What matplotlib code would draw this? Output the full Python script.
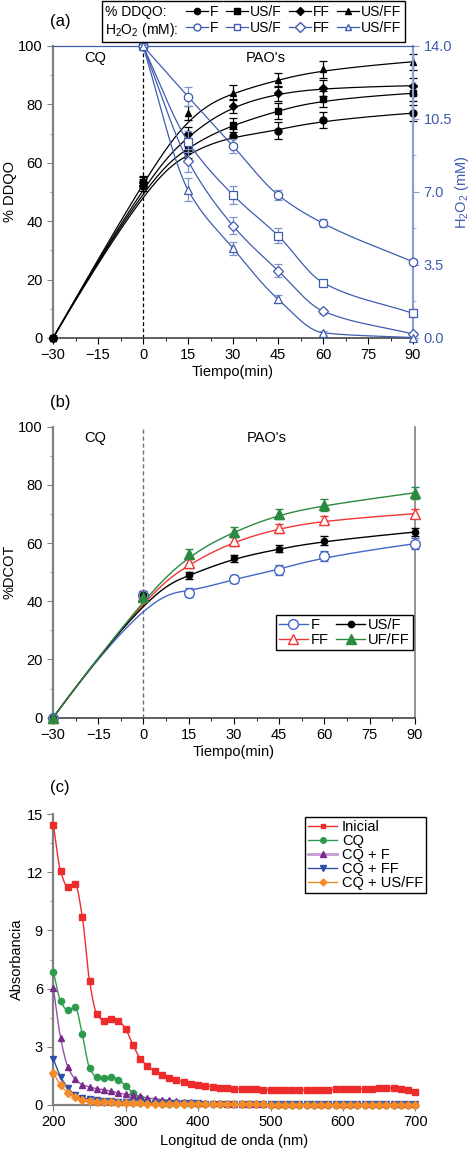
"""plot.py — DDQO / H2O2 kinetics, DCOT removal and UV-vis spectra (3 stacked panels)."""

import numpy as np
import matplotlib.pyplot as plt
from matplotlib.lines import Line2D
from matplotlib.ticker import MultipleLocator

plt.rcParams['font.family'] = ['Liberation Sans', 'DejaVu Sans']
plt.rcParams['mathtext.fontset'] = 'custom'
plt.rcParams['mathtext.rm'] = 'Liberation Sans'
plt.rcParams['mathtext.default'] = 'regular'
plt.rcParams['font.size'] = 10

# ---------------- panel (a): %DDQO (left) and H2O2 (right) ----------------
t_ddqo = [-30, 0, 15, 30, 45, 60, 90]
ddqo_F = [0, 52.0, 64.0, 69.0, 71.0, 74.7, 77.0]
ddqo_USF = [0, 53.0, 66.0, 73.0, 77.8, 81.8, 83.8]
ddqo_FF = [0, 53.5, 70.0, 79.5, 83.8, 85.7, 86.4]
ddqo_USFF = [0, 54.0, 77.0, 84.0, 88.4, 92.0, 94.6]
ddqo_err_F = [0.5, 1.5, 2.5, 2.5, 2.8, 2.8, 2.8]
ddqo_err_USF = [0.5, 1.5, 2.2, 2.5, 2.8, 2.8, 2.8]
ddqo_err_FF = [0.5, 1.5, 2.2, 2.5, 2.6, 2.8, 2.8]
ddqo_err_USFF = [0.5, 1.5, 2.5, 2.5, 2.5, 2.8, 2.8]

t_h2o2 = [0, 15, 30, 45, 60, 90]
h2o2_F = [14.0, 11.57, 9.20, 6.86, 5.50, 3.65]
h2o2_USF = [14.0, 9.41, 6.86, 4.91, 2.65, 1.18]
h2o2_FF = [14.0, 8.50, 5.38, 3.23, 1.29, 0.19]
h2o2_USFF = [14.0, 7.10, 4.30, 1.86, 0.25, 0.02]
h2o2_err_F = [0.0, 0.45, 0.35, 0.25, 0.2, 0.12]
h2o2_err_USF = [0.0, 0.5, 0.45, 0.35, 0.12, 0.1]
h2o2_err_FF = [0.0, 0.55, 0.4, 0.3, 0.12, 0.1]
h2o2_err_USFF = [0.0, 0.55, 0.3, 0.2, 0.1, 0.1]

# ---------------- panel (b): %DCOT ----------------
t_dcot = [-30, 0, 15, 30, 45, 60, 90]
dcot_F = [0, 42.0, 43.0, 47.7, 50.8, 55.5, 59.8]
dcot_USF = [0, 42.3, 49.0, 54.8, 58.0, 60.8, 63.8]
dcot_FF = [0, 41.8, 53.0, 60.6, 65.1, 67.9, 70.1]
dcot_UFFF = [0, 41.6, 56.2, 63.9, 70.0, 73.1, 77.3]
dcot_err_F = [0.3, 1.2, 1.5, 1.5, 1.8, 1.8, 1.8]
dcot_err_USF = [0.3, 1.2, 1.2, 1.2, 1.2, 1.5, 1.5]
dcot_err_FF = [0.3, 1.2, 1.5, 1.5, 1.5, 1.5, 1.5]
dcot_err_UFFF = [0.3, 1.2, 1.8, 1.8, 1.8, 2.0, 2.0]

# ---------------- panel (c): absorbance spectra ----------------
wavelength = list(range(200, 701, 10))
abs_inicial = [14.45, 12.05, 11.25, 11.40, 9.70, 6.40, 4.70, 4.35, 4.45, 4.35,
               3.90, 3.10, 2.38, 2.03, 1.74, 1.55, 1.40, 1.28, 1.19, 1.10,
               1.05, 1.00, 0.93, 0.90, 0.86, 0.84, 0.82, 0.81, 0.80, 0.79,
               0.78, 0.78, 0.77, 0.77, 0.77, 0.77, 0.78, 0.78, 0.79, 0.80,
               0.81, 0.82, 0.83, 0.84, 0.85, 0.87, 0.88, 0.87, 0.84, 0.76, 0.66]
abs_cq = [6.88, 5.36, 4.88, 5.05, 3.64, 1.91, 1.43, 1.40, 1.45, 1.28,
          1.00, 0.62, 0.36, 0.19, 0.10, 0.07, 0.06, 0.05, 0.05, 0.04,
          0.04, 0.04, 0.03, 0.03, 0.03, 0.03, 0.03, 0.03, 0.03, 0.03,
          0.02, 0.02, 0.02, 0.02, 0.02, 0.02, 0.02, 0.02, 0.02, 0.02,
          0.02, 0.02, 0.02, 0.02, 0.02, 0.02, 0.02, 0.02, 0.02, 0.02, 0.02]
abs_cq_f = [6.05, 3.47, 1.97, 1.34, 1.05, 0.93, 0.84, 0.79, 0.71, 0.62,
            0.55, 0.52, 0.45, 0.36, 0.33, 0.28, 0.24, 0.21, 0.17, 0.14,
            0.10, 0.09, 0.08, 0.08, 0.07, 0.07, 0.07, 0.06, 0.06, 0.06,
            0.06, 0.05, 0.05, 0.05, 0.05, 0.05, 0.05, 0.05, 0.05, 0.05,
            0.05, 0.05, 0.05, 0.05, 0.05, 0.05, 0.05, 0.05, 0.05, 0.05, 0.05]
abs_cq_ff = [2.38, 1.45, 0.90, 0.53, 0.38, 0.31, 0.26, 0.22, 0.19, 0.17,
             0.15, 0.14, 0.13, 0.12, 0.11, 0.10, 0.10, 0.09, 0.09, 0.08,
             0.08, 0.07, 0.07, 0.07, 0.06, 0.06, 0.06, 0.06, 0.05, 0.05,
             0.05, 0.05, 0.05, 0.04, 0.04, 0.04, 0.04, 0.04, 0.04, 0.04,
             0.04, 0.03, 0.03, 0.03, 0.03, 0.03, 0.03, 0.03, 0.03, 0.03, 0.03]
abs_cq_usff = [1.67, 1.02, 0.64, 0.40, 0.26, 0.21, 0.17, 0.15, 0.14, 0.12,
               0.10, 0.09, 0.08, 0.07, 0.06, 0.06, 0.05, 0.05, 0.05, 0.04,
               0.04, 0.04, 0.04, 0.03, 0.03, 0.03, 0.03, 0.03, 0.03, 0.03,
               0.02, 0.02, 0.02, 0.02, 0.02, 0.02, 0.02, 0.02, 0.02, 0.02,
               0.02, 0.02, 0.02, 0.02, 0.02, 0.02, 0.02, 0.02, 0.02, 0.02, 0.02]


def pchip(x, y, n=300):
    """Monotone cubic through the points (guide curve)."""
    x = np.asarray(x, float)
    y = np.asarray(y, float)
    h = np.diff(x)
    d = np.diff(y) / h
    m = np.zeros_like(y)
    m[0], m[-1] = d[0], d[-1]
    for k in range(1, len(x) - 1):
        if d[k - 1] * d[k] > 0:
            w1 = 2 * h[k] + h[k - 1]
            w2 = h[k] + 2 * h[k - 1]
            m[k] = (w1 + w2) / (w1 / d[k - 1] + w2 / d[k])
    xs = np.linspace(x[0], x[-1], n)
    i = np.clip(np.searchsorted(x, xs) - 1, 0, len(x) - 2)
    s = (xs - x[i]) / h[i]
    h00 = 2 * s**3 - 3 * s**2 + 1
    h10 = s**3 - 2 * s**2 + s
    h01 = -2 * s**3 + 3 * s**2
    h11 = s**3 - s**2
    ys = h00 * y[i] + h10 * h[i] * m[i] + h01 * y[i + 1] + h11 * h[i] * m[i + 1]
    return xs, ys


def bspline(x, y, n=300, k=3):
    """Clamped cubic B-spline using the points as control points (smoothed guide)."""
    P = np.column_stack([x, y]).astype(float)
    m = len(P)
    knots = np.concatenate([np.zeros(k), np.linspace(0, 1, m - k + 1), np.ones(k)])
    u = np.linspace(0, 1, n)
    u[-1] -= 1e-9

    def basis(i, p):
        if p == 0:
            return ((knots[i] <= u) & (u < knots[i + 1])).astype(float)
        out = np.zeros_like(u)
        if knots[i + p] > knots[i]:
            out += (u - knots[i]) / (knots[i + p] - knots[i]) * basis(i, p - 1)
        if knots[i + p + 1] > knots[i + 1]:
            out += (knots[i + p + 1] - u) / (knots[i + p + 1] - knots[i + 1]) * basis(i + 1, p - 1)
        return out

    C = sum(basis(i, k)[:, None] * P[i] for i in range(m))
    return C[:, 0], C[:, 1]


def style_time_axis(ax):
    ax.set_xlim(-30, 90)
    ax.set_ylim(0, 100)
    ax.xaxis.set_major_locator(MultipleLocator(15))
    ax.xaxis.set_minor_locator(MultipleLocator(7.5))
    ax.yaxis.set_major_locator(MultipleLocator(20))
    ax.yaxis.set_minor_locator(MultipleLocator(10))
    ax.tick_params(which='both', direction='out', top=False, right=False,
                   labelsize=10.5)
    ax.tick_params(which='major', length=4)
    ax.tick_params(which='minor', length=2.5)
    ax.tick_params(axis='y', which='both', color='#808080')
    ax.spines['left'].set_color('#808080')
    ax.spines['left'].set_linewidth(1.6)
    ax.spines['bottom'].set_color('#333333')
    ax.spines['bottom'].set_linewidth(1.1)
    ax.set_xlabel('Tiempo(min)', fontsize=10.5, labelpad=2)
    ax.text(-16, 96, 'CQ', ha='center', va='center', fontsize=10.5)
    ax.text(41, 96, "PAO's", ha='center', va='center', fontsize=10.5)


fig = plt.figure(figsize=(4.72, 11.52), dpi=100)

# ======================= (a) =======================
BLUE = '#3F5CB0'
ax = fig.add_axes([0.1123, 0.7066, 0.7627, 0.2535])
ax2 = ax.twinx()
style_time_axis(ax)
ax.axvline(0, color='black', ls=(0, (3, 2)), lw=0.9)

black_sets = [(ddqo_F, ddqo_err_F, 'o'), (ddqo_USF, ddqo_err_USF, 's'),
              (ddqo_FF, ddqo_err_FF, 'D'), (ddqo_USFF, ddqo_err_USFF, '^')]
for vals, err, mk in black_sets:
    xs, ys = bspline(t_ddqo, vals)
    ax.plot(xs, ys, color='black', lw=0.9, zorder=3)
    ax.errorbar(t_ddqo, vals, yerr=err, fmt=mk, color='black', ms=5 if mk != 'D' else 4.5,
                capsize=3, elinewidth=0.9, capthick=0.9, zorder=4, clip_on=False)

blue_sets = [(h2o2_F, h2o2_err_F, 'o'), (h2o2_USF, h2o2_err_USF, 's'),
             (h2o2_FF, h2o2_err_FF, 'D'), (h2o2_USFF, h2o2_err_USFF, '^')]
for vals, err, mk in blue_sets:
    xs, ys = pchip(t_h2o2, vals)
    ax2.plot(xs, ys, color=BLUE, lw=0.9, zorder=3)
    ax2.errorbar(t_h2o2, vals, yerr=err, fmt=mk, mfc='white', mec=BLUE, ecolor='#7F93CC',
                 ms=6 if mk != 'D' else 5, mew=0.9, capsize=3, elinewidth=0.9,
                 capthick=0.9, zorder=4, clip_on=False, ls='none')

ax.set_ylabel('% DDQO', fontsize=10.5, labelpad=1)
ax2.set_ylim(0, 14)
ax2.yaxis.set_major_locator(MultipleLocator(3.5))
ax2.yaxis.set_minor_locator(MultipleLocator(1.75))
ax2.yaxis.set_major_formatter(plt.FormatStrFormatter('%.1f'))
ax2.tick_params(axis='y', which='both', direction='out', color='#8C9ED0',
                labelcolor=BLUE, labelsize=10.5)
ax2.tick_params(axis='y', which='major', length=4)
ax2.tick_params(axis='y', which='minor', length=2.5)
ax2.set_ylabel('H$_2$O$_2$ (mM)', color=BLUE, fontsize=10.5, labelpad=1)
for side in ('left', 'bottom'):
    ax2.spines[side].set_visible(False)
ax2.spines['right'].set_color('#8C9ED0')
ax2.spines['right'].set_linewidth(1.6)
ax2.spines['top'].set_color(BLUE)
ax2.spines['top'].set_linewidth(0.9)
ax.spines['right'].set_visible(False)
ax.spines['top'].set_visible(False)

row_blank = Line2D([], [], ls='none')
leg_handles, leg_labels = [row_blank, row_blank], ['% DDQO:', 'H$_2$O$_2$ (mM):']
for mk, name in zip(['o', 's', 'D', '^'], ['F', 'US/F', 'FF', 'US/FF']):
    leg_handles.append(Line2D([], [], color='black', marker=mk, ms=4.5, lw=0.9))
    leg_handles.append(Line2D([], [], color=BLUE, marker=mk, ms=5, lw=0.9,
                              mfc='white', mec=BLUE))
    leg_labels += [name, name]
leg = fig.legend(leg_handles, leg_labels, ncol=5, loc='upper center',
                 bbox_to_anchor=(0.537, 0.999), bbox_transform=fig.transFigure,
                 fontsize=10, handlelength=1.6, handletextpad=0.15,
                 columnspacing=0.5, labelspacing=0.15, borderpad=0.25,
                 borderaxespad=0, frameon=True, fancybox=False,
                 edgecolor='black', framealpha=1)
leg.get_frame().set_linewidth(1.0)
try:
    for row in leg._legend_handle_box.get_children()[0].get_children():
        row.get_children()[0].width = 0
        row.sep = 0
except (AttributeError, IndexError):
    pass

fig.text(0.106, 0.981, '(a)', fontsize=12, ha='left', va='center')

# ======================= (b) =======================
bx = fig.add_axes([0.1123, 0.377, 0.7669, 0.2526])
style_time_axis(bx)
bx.axvline(0, color='#707070', ls=(0, (3, 2)), lw=1.0)
bx.spines['top'].set_visible(False)
bx.spines['right'].set_color('#808080')
bx.spines['right'].set_linewidth(1.2)
bx.set_ylabel('%DCOT', fontsize=10.5, labelpad=1)

b_sets = [
    (dcot_F, dcot_err_F, 'F', 'o', '#4566C8', 'white', 7),
    (dcot_FF, dcot_err_FF, 'FF', '^', '#F03535', 'white', 7),
    (dcot_USF, dcot_err_USF, 'US/F', 'o', 'black', 'black', 4.5),
    (dcot_UFFF, dcot_err_UFFF, 'UF/FF', '^', '#2A8A40', '#2A8A40', 7),
]
b_handles = []
for vals, err, name, mk, col, face, size in b_sets:
    xs, ys = bspline(t_dcot, vals)
    bx.plot(xs, ys, color=col, lw=1.0, zorder=3)
    bx.errorbar(t_dcot, vals, yerr=err, fmt=mk, color=col, mfc=face, mec=col,
                ms=size, mew=1.0, capsize=3, elinewidth=0.9, capthick=0.9,
                zorder=4, clip_on=False)
    b_handles.append(Line2D([], [], color=col, marker=mk, mfc=face, mec=col,
                            ms=size, lw=1.0, label=name))
bleg = bx.legend(handles=b_handles, ncol=2, loc='lower right',
                 bbox_to_anchor=(0.875, 0.4358), bbox_transform=fig.transFigure,
                 fontsize=10.5, handlelength=2.0, handletextpad=0.2,
                 columnspacing=0.5, labelspacing=0.05, borderpad=0.2,
                 borderaxespad=0, fancybox=False, edgecolor='black', framealpha=1)
bleg.get_frame().set_linewidth(1.0)

fig.text(0.106, 0.651, '(b)', fontsize=12, ha='left', va='center')

# ======================= (c) =======================
cx = fig.add_axes([0.1130, 0.0408, 0.7669, 0.2526])
c_sets = [
    (abs_inicial, 'Inicial', 's', '#EE2B2B', '#EE2B2B', 4),
    (abs_cq, 'CQ', 'o', '#2E9A4E', '#2E9A4E', 4.5),
    (abs_cq_f, 'CQ + F', '^', '#7A2A8C', '#9A50AC', 4.5),
    (abs_cq_ff, 'CQ + FF', 'v', '#2E4EA8', '#2E4EA8', 4.5),
    (abs_cq_usff, 'CQ + US/FF', 'D', '#F58A28', '#F58A28', 4),
]
for vals, name, mk, mcol, lcol, size in c_sets:
    xs, ys = pchip(wavelength, vals, n=800)
    cx.plot(xs, ys, color=lcol, lw=1.0, zorder=3)
    cx.plot(wavelength, vals, ls='none', marker=mk, color=mcol, ms=size,
            zorder=4, clip_on=False)
c_handles = [Line2D([], [], color=lcol if name != 'CQ + F' else '#C49AD0',
                    lw=1.0 if name != 'CQ + F' else 2.0,
                    marker=mk, mfc=mcol, mec=mcol, ms=size - 0.5, label=name)
             for vals, name, mk, mcol, lcol, size in c_sets]
cleg = cx.legend(handles=c_handles, loc='upper right',
                 bbox_to_anchor=(0.9025, 0.2908), bbox_transform=fig.transFigure,
                 fontsize=10.5, handlelength=2.0, handletextpad=0.3,
                 labelspacing=0.0, borderpad=0.2, borderaxespad=0,
                 fancybox=False, edgecolor='black', framealpha=1)
cleg.get_frame().set_linewidth(1.0)

cx.set_xlim(200, 700)
cx.set_ylim(0, 15)
cx.xaxis.set_major_locator(MultipleLocator(100))
cx.xaxis.set_minor_locator(MultipleLocator(50))
cx.yaxis.set_major_locator(MultipleLocator(3))
cx.yaxis.set_minor_locator(MultipleLocator(1.5))
cx.tick_params(which='both', direction='out', labelsize=10.5, color='#808080')
cx.tick_params(which='major', length=4)
cx.tick_params(which='minor', length=2.5)
for side in ('top', 'right'):
    cx.spines[side].set_visible(False)
for side in ('left', 'bottom'):
    cx.spines[side].set_color('#808080')
    cx.spines[side].set_linewidth(1.6)
cx.set_xlabel('Longitud de onda (nm)', fontsize=10.5, labelpad=3)
cx.set_ylabel('Absorbancia', fontsize=10.5, labelpad=2)

fig.text(0.106, 0.316, '(c)', fontsize=12, ha='left', va='center')

fig.savefig('out.png', dpi=100)
